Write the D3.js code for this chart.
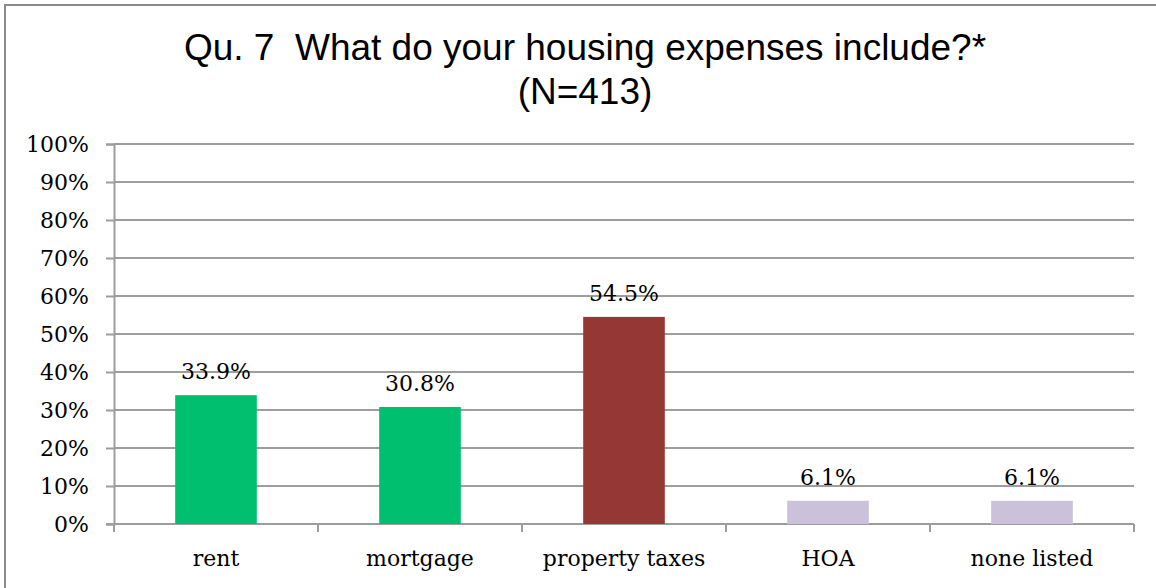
<!DOCTYPE html>
<html>
<head>
<meta charset="utf-8">
<script src="https://cdn.jsdelivr.net/npm/d3@7"></script>
<style>
  html, body { margin: 0; padding: 0; background: #fff; }
  svg { display: block; }
  .title { white-space: pre; }
</style>
</head>
<body>
<svg id="chart" width="1156" height="588"></svg>
<script>
// Survey responses: share of respondents whose housing expenses include each item
const categories = ["rent", "mortgage", "property taxes", "HOA", "none listed"];
const values = [33.9, 30.8, 54.5, 6.1, 6.1];
const barColors = ["#00BF6F", "#00BF6F", "#953735", "#CCC1DA", "#CCC1DA"];
const yTicks = [0, 10, 20, 30, 40, 50, 60, 70, 80, 90, 100];
const titleLines = ["Qu. 7  What do your housing expenses include?*", "(N=413)"];

const svg = d3.select("#chart");
const plot = { left: 114, right: 1134, top: 144, bottom: 524 };
const serif = "'DejaVu Serif', serif";
const labelSize = 22;
const gridColor = "#9d9d9d";

// chart frame
svg.append("rect")
  .attr("x", 5).attr("y", 5)
  .attr("width", 1170).attr("height", 620)
  .attr("fill", "#fff")
  .attr("stroke", "#8a8a8a").attr("stroke-width", 2);

// title
svg.append("g").selectAll("text")
  .data(titleLines)
  .join("text")
  .attr("class", "title")
  .attr("xml:space", "preserve")
  .attr("x", 585)
  .attr("y", (d, i) => 60 + i * 44)
  .attr("text-anchor", "middle")
  .attr("font-family", "'Liberation Sans', Arial, sans-serif")
  .attr("font-size", 37)
  .attr("fill", "#000")
  .text(d => d);

const x = d3.scaleBand()
  .domain(categories)
  .range([plot.left, plot.right])
  .paddingInner(0.6)
  .paddingOuter(0.3);

const y = d3.scaleLinear()
  .domain([0, 100])
  .range([plot.bottom, plot.top]);

// horizontal gridlines
svg.append("g").selectAll("line")
  .data(yTicks.filter(t => t > 0))
  .join("line")
  .attr("x1", plot.left).attr("x2", plot.right)
  .attr("y1", d => y(d)).attr("y2", d => y(d))
  .attr("stroke", gridColor).attr("stroke-width", 2);

// y axis
const yAxis = svg.append("g")
  .attr("transform", `translate(${plot.left},0)`)
  .call(d3.axisLeft(y).tickValues(yTicks).tickFormat(d => d + "%").tickSize(8).tickPadding(17));
yAxis.select(".domain").attr("stroke", gridColor).attr("stroke-width", 2);
yAxis.selectAll(".tick line").attr("stroke", gridColor).attr("stroke-width", 2);
yAxis.selectAll(".tick text")
  .attr("font-family", serif).attr("font-size", labelSize).attr("fill", "#000")
  .attr("dy", "0.36em");

// x axis with boundary tick marks between categories
const step = x.step();
const boundaries = d3.range(categories.length + 1).map(i => plot.left + i * step);
const xAxisG = svg.append("g");
xAxisG.append("line")
  .attr("x1", plot.left - 8).attr("x2", plot.right)
  .attr("y1", plot.bottom).attr("y2", plot.bottom)
  .attr("stroke", gridColor).attr("stroke-width", 2);
xAxisG.selectAll("line.tick")
  .data(boundaries)
  .join("line")
  .attr("class", "tick")
  .attr("x1", d => d).attr("x2", d => d)
  .attr("y1", plot.bottom).attr("y2", plot.bottom + 8)
  .attr("stroke", gridColor).attr("stroke-width", 2);
xAxisG.selectAll("text")
  .data(categories)
  .join("text")
  .attr("x", d => x(d) + x.bandwidth() / 2)
  .attr("y", 566)
  .attr("text-anchor", "middle")
  .attr("font-family", serif).attr("font-size", labelSize).attr("fill", "#000")
  .text(d => d);

// bars
svg.append("g").selectAll("rect")
  .data(values)
  .join("rect")
  .attr("x", (d, i) => x(categories[i]))
  .attr("y", d => y(d))
  .attr("width", x.bandwidth())
  .attr("height", d => y(0) - y(d))
  .attr("fill", (d, i) => barColors[i]);

// value labels
svg.append("g").selectAll("text")
  .data(values)
  .join("text")
  .attr("x", (d, i) => x(categories[i]) + x.bandwidth() / 2)
  .attr("y", d => y(d) - 16)
  .attr("text-anchor", "middle")
  .attr("font-family", serif).attr("font-size", labelSize).attr("fill", "#000")
  .text(d => d.toFixed(1) + "%");
</script>
</body>
</html>
